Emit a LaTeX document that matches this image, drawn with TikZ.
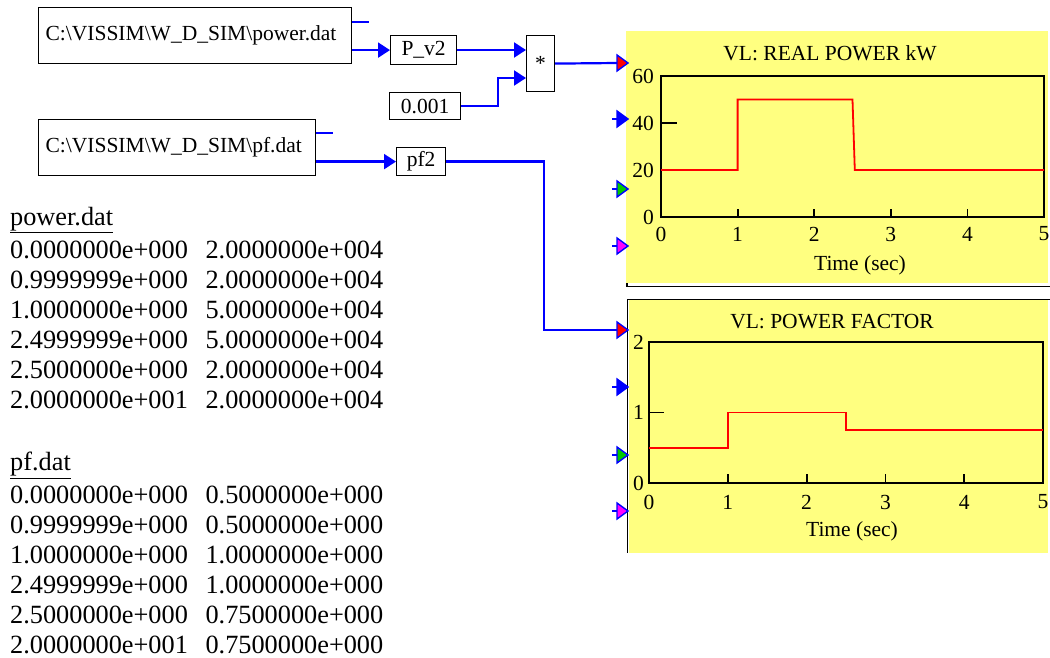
\documentclass[tikz,border=0pt]{standalone}
\usepackage{fontspec}
\setmainfont{Liberation Serif}
\usetikzlibrary{arrows.meta}
\definecolor{plotyellow}{RGB}{255,255,128}
\definecolor{wireblue}{RGB}{0,0,255}
\definecolor{portgreen}{RGB}{0,200,0}
\definecolor{portmag}{RGB}{255,0,255}
\newcommand\fsz[1]{\fontsize{#1}{#1}\selectfont}
\newcommand\inport[2]{\filldraw[port,fill=#2] (#1) ++(0,-8) -- ++(11,8) -- ++(-11,8) -- cycle;}
\newcommand\twocol[2]{#1\hspace{0.67em}#2}
\begin{document}
\begin{tikzpicture}[x=1pt,y=-1pt,
 blk/.style={draw=black, line width=1.2pt, fill=white, inner sep=0pt, font=\fsz{21.5}},
 wire/.style={draw=wireblue, line width=2.2pt},
 arr/.style={-{Triangle[length=12pt,width=15pt]}},
 port/.style={draw=wireblue, line width=1.4pt},
 frame/.style={draw=black, line width=1.8pt},
 curve/.style={draw=red, line width=1.8pt},
 lbl/.style={font=\fsz{21.5}, inner sep=0pt},
 dat/.style={font=\fsz{26.3}, inner sep=0pt, anchor=base west},
]
\useasboundingbox (0,0) rectangle (1050,658);

% plot panels
\fill[plotyellow] (626,31) rectangle (1048,283);
\draw[black, line width=1.2pt] (627,283) -- (627,286.5) -- (1050,286.5);
\fill[plotyellow] (629,300) rectangle (1048,553);
\draw[black, line width=1.2pt] (1050,299.5) -- (627.5,299.5) -- (627.5,553);

% top plot
\node[lbl] (t1) at (830,53) {VL: REAL POWER kW};
\node[lbl] (xl1) at (860,265) {Time (sec)};
\begin{scope}[shift={(661,217)}, x=76.6pt, y=2.35pt]
  \draw[frame] (0,0) rectangle (5,60);
  \foreach \t in {1,2,3,4} \draw[frame] (\t,0) -- ++(0pt,8pt);
  \foreach \v in {0,20,40} \draw[frame] (0,\v) -- ++(16pt,0pt);
  \draw[curve] (0,20) -- (1,20) -- (1,50) -- (2.5,50) -- (2.53,20) -- (5,20);
  \foreach \t in {0,...,5} \node[lbl] (ax\t) at (\t,0) [yshift=-17pt] {\t};
  \foreach \v in {0,20,40,60} \node[lbl, anchor=east] (ay\v) at (0,\v) [xshift=-7pt] {\v};
\end{scope}

% bottom plot
\node[lbl] (t2) at (832,322) {VL: POWER FACTOR};
\node[lbl] (xl2) at (852,531) {Time (sec)};
\begin{scope}[shift={(649,483)}, x=78.8pt, y=70.5pt]
  \draw[frame] (0,0) rectangle (5,2);
  \foreach \t in {1,2,3,4} \draw[frame] (\t,0) -- ++(0pt,9pt);
  \foreach \v in {0,1} \draw[frame] (0,\v) -- ++(15pt,0pt);
  \draw[curve] (0,0.5) -- (1,0.5) -- (1,1) -- (2.5,1) -- (2.5,0.75) -- (5,0.75);
  \foreach \t in {0,...,5} \node[lbl] (bx\t) at (\t,0) [yshift=-19pt] {\t};
  \foreach \v in {0,1,2} \node[lbl, anchor=east] (by\v) at (0,\v) [xshift=-5pt] {\v};
\end{scope}

% blocks
\node[blk, anchor=north west, minimum width=313.5pt, minimum height=56pt, text width=298.5pt, align=left, inner xsep=7.5pt] (src1) at (37.5,7) {C:\textbackslash VISSIM\textbackslash W\_D\_SIM\textbackslash power.dat};
\node[blk, anchor=north west, minimum width=66pt, minimum height=29pt] (pv2) at (390,35) {P\_v2};
\node[blk, anchor=north west, minimum width=71pt, minimum height=27pt] (k) at (389,92) {0.001};
\node[blk, anchor=north west, minimum width=28pt, minimum height=56pt] (mult) at (526,35) {*};
\node[blk, anchor=north west, minimum width=277.5pt, minimum height=56pt, text width=262.5pt, align=left, inner xsep=7.5pt] (src2) at (37.5,119) {C:\textbackslash VISSIM\textbackslash W\_D\_SIM\textbackslash pf.dat};
\node[blk, anchor=north west, minimum width=49pt, minimum height=28pt] (pf2) at (396,147) {pf2};

% port coordinates
\coordinate (m1) at (526,50);
\coordinate (m2) at (526,78);
\coordinate (tp1) at (617,63);
\coordinate (tp2) at (617,119);
\coordinate (tp3) at (617,189);
\coordinate (tp4) at (617,246);
\coordinate (bp1) at (617,330);
\coordinate (bp2) at (617,387);
\coordinate (bp3) at (617,455);
\coordinate (bp4) at (617,511);

% wires
\draw[wire] ([yshift=-15pt]src1.north east) -- ++(17,0);
\draw[wire,arr] (src1.east |- pv2.west) -- (pv2.west);
\draw[wire,arr] (pv2.east |- m1) -- (m1);
\draw[wire,arr] (k.east) -- ++(37,0) |- (m2);
\draw[wire] (mult.east) -- (tp1);
\draw[wire] ([yshift=-14pt]src2.north east) -- ++(17,0);
\draw[wire,arr] (src2.east |- pf2.west) -- (pf2.west);
\draw[wire] (pf2.east) -- ++(98,0) |- (bp1);
\foreach \p in {tp2,tp3,tp4,bp2,bp3,bp4} \draw[wire] (\p) -- ++(-5,0);

% ports
\inport{tp1}{red}
\inport{tp2}{wireblue}
\inport{tp3}{portgreen}
\inport{tp4}{portmag}
\inport{bp1}{red}
\inport{bp2}{wireblue}
\inport{bp3}{portgreen}
\inport{bp4}{portmag}

% data listing
\node[dat] (h1) at (10,225) {\underline{power.dat}};
\node[dat] (d1) at (10,258.3) {\twocol{0.0000000e+000}{2.0000000e+004}};
\node[dat] (d2) at (10,288.3) {\twocol{0.9999999e+000}{2.0000000e+004}};
\node[dat] (d3) at (10,318.3) {\twocol{1.0000000e+000}{5.0000000e+004}};
\node[dat] (d4) at (10,348.3) {\twocol{2.4999999e+000}{5.0000000e+004}};
\node[dat] (d5) at (10,378.3) {\twocol{2.5000000e+000}{2.0000000e+004}};
\node[dat] (d6) at (10,408.3) {\twocol{2.0000000e+001}{2.0000000e+004}};
\node[dat] (h2) at (10,470.7) {\underline{pf.dat}};
\node[dat] (e1) at (10,503.3) {\twocol{0.0000000e+000}{0.5000000e+000}};
\node[dat] (e2) at (10,533.3) {\twocol{0.9999999e+000}{0.5000000e+000}};
\node[dat] (e3) at (10,563.3) {\twocol{1.0000000e+000}{1.0000000e+000}};
\node[dat] (e4) at (10,593.3) {\twocol{2.4999999e+000}{1.0000000e+000}};
\node[dat] (e5) at (10,623.3) {\twocol{2.5000000e+000}{0.7500000e+000}};
\node[dat] (e6) at (10,653.3) {\twocol{2.0000000e+001}{0.7500000e+000}};
\end{tikzpicture}
\end{document}
